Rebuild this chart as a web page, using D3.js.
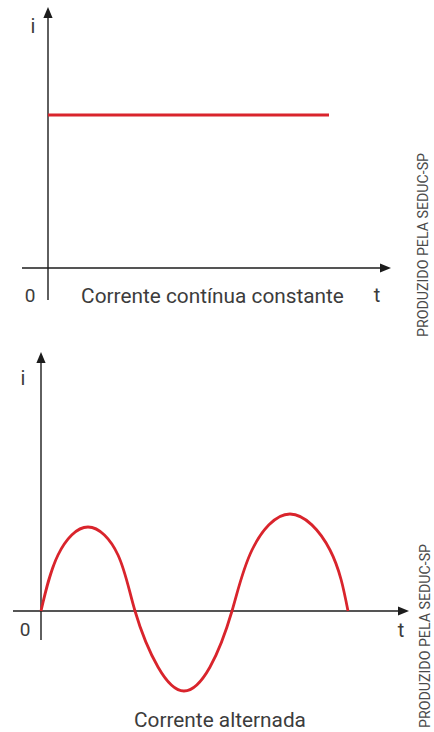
<!DOCTYPE html>
<html>
<head>
<meta charset="utf-8">
<script src="https://cdn.jsdelivr.net/npm/d3@7"></script>
<style>
  html, body { margin: 0; padding: 0; background: #fff; }
  svg { display: block; }
  text { font-family: Roboto, "Noto Sans", sans-serif; fill: #3c3c3c; }
</style>
</head>
<body>
<svg id="chart" width="434" height="732"></svg>
<script>
// Direct current: constant value over time
const dcTime = [0, 28.1];
const dcCurrent = [1.53, 1.53];

// Alternating current: sampled points (t, i)
const acTime = [0, 1.7, 4.7, 7.7, 9.4, 11.7, 14.3, 16.9, 19.1, 21.1, 24.9, 28.9, 30.7];
const acCurrent = [0, 0.56, 0.84, 0.56, 0, -0.56, -0.80, -0.56, 0, 0.61, 0.97, 0.61, 0];

const axisLabels = { y: "i", x: "t", origin: "0" };
const titles = ["Corrente contínua constante", "Corrente alternada"];
const credit = "PRODUZIDO PELA SEDUC-SP";

const svg = d3.select("#chart");
const RED = "#d9242c";
const AXIS = "#1c1c1c";

function arrowHead(g, x, y, dir) {
  const L = 11, W = 4.6;
  let pts;
  if (dir === "up") pts = [[x, y], [x - W, y + L], [x + W, y + L]];
  else pts = [[x, y], [x - L, y - W], [x - L, y + W]];
  g.append("path").attr("d", d3.line()(pts) + "Z").attr("fill", AXIS);
}

function drawAxes(g, x, y, ext, lbl) {
  // horizontal axis
  g.append("line")
    .attr("x1", x(ext.tMin)).attr("x2", x(ext.tMax) - 6)
    .attr("y1", y(0)).attr("y2", y(0))
    .attr("stroke", AXIS).attr("stroke-width", 1.4);
  arrowHead(g, x(ext.tMax), y(0), "right");
  // vertical axis
  g.append("line")
    .attr("x1", x(0)).attr("x2", x(0))
    .attr("y1", y(ext.iMin)).attr("y2", y(ext.iMax) + 6)
    .attr("stroke", AXIS).attr("stroke-width", 1.4);
  arrowHead(g, x(0), y(ext.iMax), "up");

  g.append("text").attr("x", lbl.iX).attr("y", lbl.iY)
    .attr("text-anchor", "middle").attr("font-size", 20).text(axisLabels.y);
  g.append("text").attr("x", lbl.oX).attr("y", lbl.oY)
    .attr("text-anchor", "middle").attr("font-size", 19).text(axisLabels.origin);
  g.append("text").attr("x", lbl.tX).attr("y", lbl.tY)
    .attr("text-anchor", "middle").attr("font-size", 20).text(axisLabels.x);
}

function drawCredit(x, y) {
  svg.append("text")
    .attr("transform", `translate(${x},${y}) rotate(-90)`)
    .attr("text-anchor", "middle")
    .attr("font-size", 14.2)
    .style("fill", "#4a4a4a")
    .text(credit);
}

// ---- Top panel: constant direct current ----
{
  const g = svg.append("g");
  const x = d3.scaleLinear().domain([0, 34.3]).range([48, 391]);
  const y = d3.scaleLinear().domain([0, 2.61]).range([268, 7]);
  drawAxes(g, x, y, { tMin: -2.6, tMax: 34.3, iMin: -0.32, iMax: 2.61 },
    { iX: 33, iY: 33, oX: 30, oY: 302, tX: 377, tY: 302 });

  const line = d3.line().x(d => x(d[0])).y(d => y(d[1]));
  g.append("path")
    .datum(d3.zip(dcTime, dcCurrent))
    .attr("d", line)
    .attr("fill", "none").attr("stroke", RED).attr("stroke-width", 3);

  g.append("text").attr("x", 212.5).attr("y", 303)
    .attr("text-anchor", "middle").attr("font-size", 20.8).text(titles[0]);
  drawCredit(428, 245);
}

// ---- Bottom panel: alternating current ----
{
  const g = svg.append("g");
  const x = d3.scaleLinear().domain([0, 36.8]).range([41, 409]);
  const y = d3.scaleLinear().domain([0, 2.59]).range([611, 352]);
  drawAxes(g, x, y, { tMin: -2.8, tMax: 36.8, iMin: -0.29, iMax: 2.59 },
    { iX: 23, iY: 385, oX: 25, oY: 636, tX: 401, tY: 637 });

  const line = d3.line().x(d => x(d[0])).y(d => y(d[1]))
    .curve(d3.curveNatural);
  g.append("path")
    .datum(d3.zip(acTime, acCurrent))
    .attr("d", line)
    .attr("fill", "none").attr("stroke", RED).attr("stroke-width", 2.8)
    .attr("stroke-linejoin", "round");

  g.append("text").attr("x", 220).attr("y", 727)
    .attr("text-anchor", "middle").attr("font-size", 20.8).text(titles[1]);
  drawCredit(430, 636);
}
</script>
</body>
</html>
